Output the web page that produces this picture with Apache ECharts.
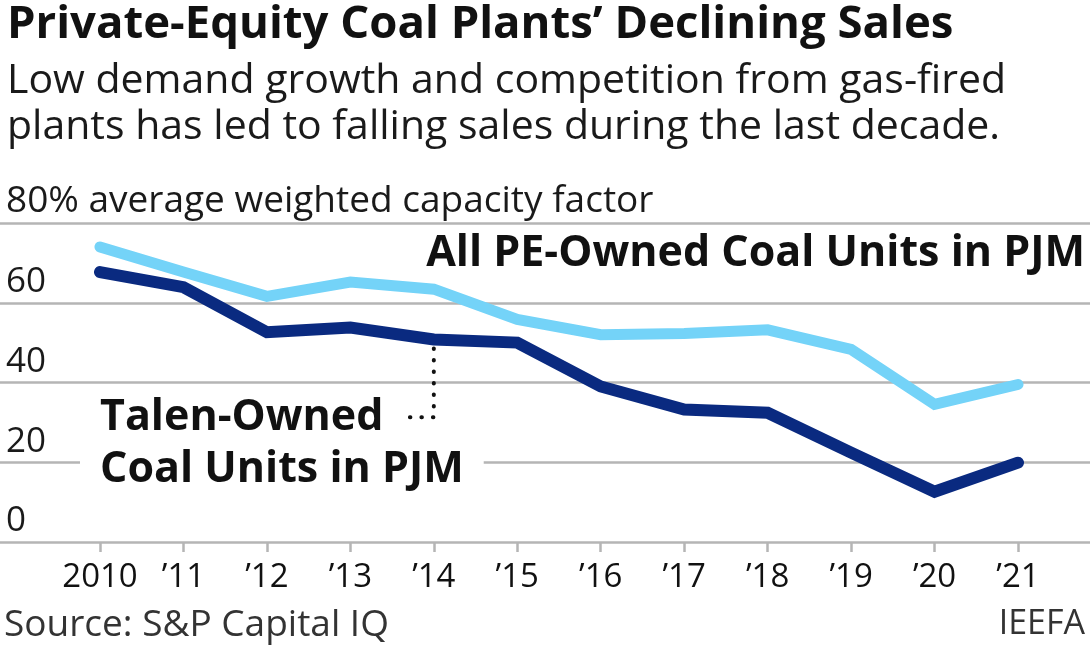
<!DOCTYPE html>
<html>
<head>
<meta charset="utf-8">
<script src="https://cdn.jsdelivr.net/npm/echarts@6/dist/echarts.min.js"></script>
<style>
html,body{margin:0;padding:0;background:#fff;}
#chart{width:1090px;height:654px;}
</style>
</head>
<body>
<div id="chart"></div>
<script>
var years = ['2010', "\u201911", "\u201912", "\u201913", "\u201914", "\u201915", "\u201916", "\u201917", "\u201918", "\u201919", "\u201920", "\u201921"];
var allPE = [74, 67.7, 61.6, 65.2, 63.4, 55.8, 52, 52.3, 53.2, 48.3, 34.5, 39.5];
var talen = [67.7, 63.9, 52.6, 53.8, 50.8, 50, 39, 33.2, 32.4, 22.4, 12.6, 19.9];
var yTicks = [0, 20, 40, 60, 80];
var leader = [[4, 48.5], [4, 31.3], [3.62, 31.3]];

var FONT = '"Open Sans", "Noto Sans", sans-serif';
var chart = echarts.init(document.getElementById('chart'), null, {renderer: 'canvas'});
var TOP = 223, BOTTOM = 654 - 542;

chart.setOption({
  animation: false,
  backgroundColor: '#fff',
  textStyle: {fontFamily: FONT},
  grid: [
    {left: 0, right: 0, top: TOP, bottom: BOTTOM},
    {left: 100, right: 72, top: TOP, bottom: BOTTOM}
  ],
  xAxis: [
    {gridIndex: 0, type: 'value', min: 0, max: 1, show: false},
    {gridIndex: 1, type: 'category', data: years, boundaryGap: false,
     axisLine: {show: false},
     axisTick: {show: true, length: 10, lineStyle: {color: '#b5b5b5', width: 2.5}},
     axisLabel: {fontFamily: FONT, fontSize: 33, color: '#111', margin: 19, interval: 0}},
    {gridIndex: 1, type: 'value', min: 0, max: years.length - 1, show: false}
  ],
  yAxis: [
    {gridIndex: 0, type: 'value', min: yTicks[0], max: yTicks[yTicks.length - 1], interval: 20,
     axisLine: {show: false}, axisTick: {show: false},
     splitLine: {show: true, lineStyle: {color: '#b5b5b5', width: 2.5}},
     axisLabel: {inside: true, margin: 6, align: 'left', verticalAlign: 'bottom', padding: [0, 0, 3, 0],
       fontFamily: FONT, fontSize: 35, color: '#1a1a1a',
       rich: {t: {fontFamily: FONT, fontSize: 37, color: '#1a1a1a'}},
       formatter: function (v) { return v === 80 ? '{t|80% average weighted capacity factor}' : String(v); }}},
    {gridIndex: 1, type: 'value', min: 0, max: 80, show: false}
  ],
  series: [
    {type: 'line', xAxisIndex: 1, yAxisIndex: 1, data: allPE, symbol: 'none',
     lineStyle: {color: '#74d3f8', width: 11, join: 'miter', cap: 'round'}, z: 3},
    {type: 'line', xAxisIndex: 1, yAxisIndex: 1, data: talen, symbol: 'none',
     lineStyle: {color: '#0a2a80', width: 12, join: 'miter', cap: 'round'}, z: 4},
    {type: 'line', xAxisIndex: 2, yAxisIndex: 1, data: leader, symbol: 'none',
     lineStyle: {color: '#111', width: 4, type: [0.5, 11], cap: 'round'}, z: 5}
  ],
  graphic: [
    {type: 'text', left: 7, top: 2, z: 10, style: {text: 'Private-Equity Coal Plants\u2019 Declining Sales',
      font: 'bold 45.5px ' + FONT, fill: '#111'}},
    {type: 'text', left: 7, top: 58, z: 10, style: {text: 'Low demand growth and competition from gas-fired\nplants has led to falling sales during the last decade.',
      font: '41px ' + FONT, fill: '#1a1a1a', lineHeight: 46}},
    {type: 'text', right: 5, top: 232, z: 10, style: {text: 'All PE-Owned Coal Units in PJM',
      font: 'bold 43px ' + FONT, fill: '#111'}},
    {type: 'text', left: 80, top: 392, z: 1, style: {text: 'Talen-Owned\nCoal Units in PJM',
      font: 'bold 43px ' + FONT, fill: '#111', lineHeight: 52, backgroundColor: '#fff', padding: [0, 20, 0, 20]}},
    {type: 'text', left: 4, top: 607, z: 10, style: {text: 'Source: S&P Capital IQ',
      font: '37px ' + FONT, fill: '#333'}},
    {type: 'text', right: 5, top: 607, z: 10, style: {text: 'IEEFA',
      font: '34px ' + FONT, fill: '#333'}}
  ]
});
</script>
</body>
</html>
